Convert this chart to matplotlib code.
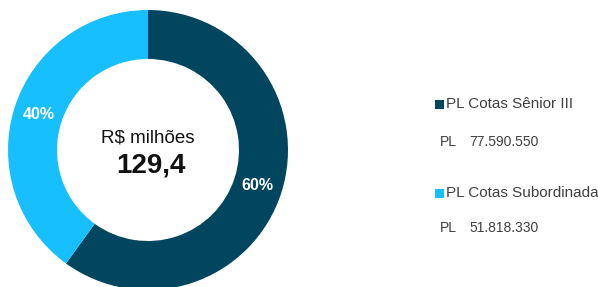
import matplotlib
matplotlib.use("Agg")
import matplotlib.pyplot as plt
from matplotlib.patches import Rectangle
import numpy as np

categories = ["PL Cotas Sênior III", "PL Cotas Subordinada"]
values = [77590550, 51818330]
value_labels = ["77.590.550", "51.818.330"]
center_title = "R$ milhões"
center_value = "129,4"
colors = ["#02455f", "#17bfff"]

FONT = ["Liberation Sans Narrow", "Liberation Sans", "DejaVu Sans"]
plt.rcParams["font.family"] = FONT

W, H = 598, 287
fig = plt.figure(figsize=(W / 100, H / 100), dpi=100)
fig.patch.set_facecolor("white")

cx, cy, R = 148, 150, 140
ax = fig.add_axes([(cx - R) / W, (H - cy - R) / H, 2 * R / W, 2 * R / H])
ax.axis("off")

total = sum(values)
wedges, texts = ax.pie(values, colors=colors, startangle=90, counterclock=False,
                       radius=1, wedgeprops=dict(width=0.35, edgecolor="none"))
ax.set_xlim(-1, 1)
ax.set_ylim(-1, 1)
ax.set_aspect("equal")
for w, v in zip(wedges, values):
    ang = np.deg2rad((w.theta1 + w.theta2) / 2)
    r = 0.82
    ax.text(r * np.cos(ang), r * np.sin(ang), f"{round(100 * v / total)}%",
            ha="center", va="center", color="white", fontsize=11.5, fontweight="bold")

ax.text(0, 0.085, center_title, ha="center", va="center", fontsize=13.5, color="#111111")
ax.text(0.02, -0.11, center_value, ha="center", va="center", fontsize=20,
        fontweight="bold", color="#111111")

# legend
rows = [(104, 142), (193, 228)]
for (ty, vy), cat, vl, col in zip(rows, categories, value_labels, colors):
    fig.patches.append(Rectangle(((435) / W, (H - ty - 4.5) / H), 9 / W, 9 / H,
                                 transform=fig.transFigure, facecolor=col, edgecolor="none"))
    fig.text(446 / W, (H - ty) / H, cat, ha="left", va="center", fontsize=11, color="#404040")
    fig.text(440 / W, (H - vy) / H, "PL", ha="left", va="center", fontsize=10, color="#404040")
    fig.text(469 / W, (H - vy) / H, vl, ha="left", va="center", fontsize=10, color="#404040")

fig.savefig("out.png", dpi=100, facecolor="white")
